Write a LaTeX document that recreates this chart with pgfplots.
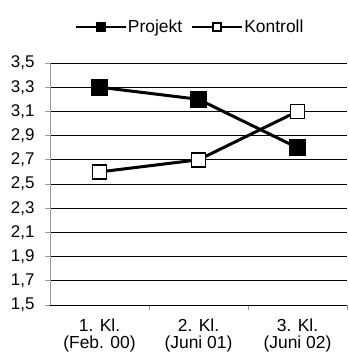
\documentclass[border=0pt]{standalone}
\usepackage{pgfplots}
\pgfplotsset{compat=1.18}
\usepackage{fontspec}
\setmainfont{Liberation Sans}
\begin{document}
\begin{tikzpicture}
\begin{axis}[
  scale only axis, width=297bp, height=242bp,
  xmin=-0.5, xmax=2.5, ymin=1.5, ymax=3.5,
  axis x line*=bottom, axis y line*=left,
  x axis line style={black, line width=0.8bp},
  y axis line style={gray!80, line width=0.8bp},
  xtick={0,1,2},
  xticklabels={{1. Kl.\\(Feb. 00)},{2. Kl.\\(Juni 01)},{3. Kl.\\(Juni 02)}},
  major x tick style={draw=none},
  minor xtick={0.5,1.5,2.5},
  minor x tick style={gray!80, line width=0.8bp},
  minor tick length=5bp,
  xticklabel style={align=center, font=\fontsize{17.5}{17}\selectfont, yshift=-5bp},
  ytick={1.5,1.7,1.9,2.1,2.3,2.5,2.7,2.9,3.1,3.3,3.5},
  yticklabel style={/pgf/number format/.cd, use comma, fixed, fixed zerofill, precision=1, assume math mode=true, /tikz/.cd, font=\fontsize{17}{17}\selectfont, xshift=-7bp},
  major y tick style={gray!80, line width=0.8bp},
  major tick length=5bp,
  tick align=outside,
  ymajorgrids,
  major grid style={black, line width=0.75bp},
  legend columns=2,
  legend style={draw=none, at={(0.47,1)}, anchor=south, yshift=25bp, font=\fontsize{17.5}{18}\selectfont,
    nodes={inner xsep=1bp},
    /tikz/every even column/.append style={column sep=8bp}},
  legend image code/.code={
    \draw[line width=2.2bp, mark size=4bp, mark repeat=2, mark phase=2] plot coordinates {(0bp,0bp) (25bp,0bp) (50bp,0bp)};
  },
]
\addplot[black, line width=3bp, mark=square*, mark size=7bp, mark options={solid, fill=black}] coordinates {(0,3.3) (1,3.2) (2,2.8)};
\addlegendentry{Projekt}
\addplot[black, line width=3bp, mark=square*, mark size=7bp, mark options={solid, fill=white, draw=black, line width=1.8bp}] coordinates {(0,2.6) (1,2.7) (2,3.1)};
\addlegendentry{Kontroll}
\coordinate (SW) at (rel axis cs:0,0);
\coordinate (NE) at (rel axis cs:1,1);
\end{axis}
\pgfresetboundingbox
\path ([xshift=-50bp,yshift=-55bp]SW) rectangle ([xshift=2bp,yshift=63bp]NE);
\end{tikzpicture}
\end{document}
